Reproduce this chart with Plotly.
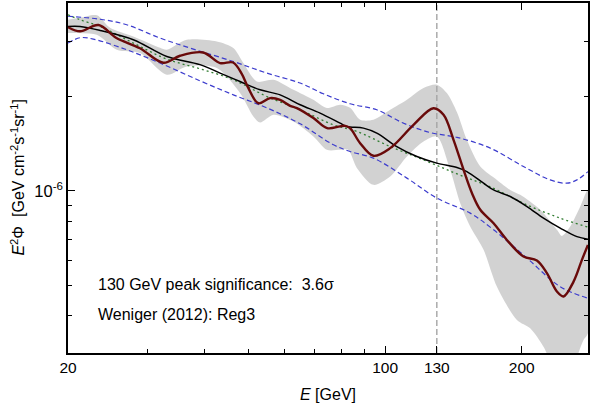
import numpy as np
import plotly.graph_objects as go

# ---------------- data (E in GeV, flux E^2*Phi in units of 1e-6 GeV cm^-2 s^-1 sr^-1)
data_E = [20.0, 21.26, 23.35, 25.52, 28.82, 32.45, 35.32, 39.70, 43.28, 46.22, 48.31, 49.96,
          52.56, 55.79, 58.70, 61.76, 63.89, 69.49, 74.50, 79.58, 81.63, 83.73, 88.09, 94.22,
          102.6, 115.5, 127.8, 134.5, 141.5, 148.9, 155.4, 162.1, 173.4, 185.5, 201.8, 216.0,
          227.3, 239.1, 247.3, 260.2, 271.5, 279.9]
data_F = [3.330, 3.233, 3.384, 3.083, 2.853, 2.565, 2.700, 2.766, 2.559, 2.570, 2.364, 2.129,
          1.904, 1.978, 1.953, 1.869, 1.838, 1.708, 1.586, 1.607, 1.613, 1.586, 1.420, 1.294,
          1.369, 1.625, 1.835, 1.749, 1.455, 1.167, 0.983, 0.870, 0.788, 0.697, 0.617, 0.599,
          0.546, 0.477, 0.460, 0.513, 0.602, 0.672]

model_E = [20.0, 21.26, 23.53, 27.86, 33.02, 39.09, 43.28, 47.89, 53.01, 58.70, 64.97, 71.89,
           79.58, 82.34, 89.58, 95.86, 106.1, 117.5, 130.0, 144.0, 151.4, 164.8, 173.4, 188.7,
           205.4, 223.4, 243.2, 264.7, 279.9]
model_F = [3.349, 3.349, 3.252, 3.037, 2.686, 2.530, 2.377, 2.235, 2.102, 2.026, 1.883, 1.771,
           1.645, 1.605, 1.586, 1.529, 1.385, 1.287, 1.226, 1.187, 1.152, 1.058, 1.007, 0.959,
           0.891, 0.818, 0.760, 0.714, 0.701]

bkg_E = [20.0, 21.26, 23.53, 27.86, 33.02, 39.09, 46.29, 54.85, 64.97, 76.92, 86.63, 102.6,
         121.5, 144.0, 170.5, 205.4, 243.2, 279.9]
bkg_F = [3.650, 3.518, 3.349, 2.964, 2.635, 2.453, 2.263, 2.001, 1.815, 1.625, 1.547, 1.385,
         1.256, 1.133, 1.030, 0.902, 0.818, 0.766]

up_E = [20.0, 23.53, 26.94, 31.91, 37.78, 46.29, 54.85, 64.97, 73.11, 83.73, 95.86, 109.7,
        125.7, 144.0, 170.5, 201.8, 231.1, 251.6, 264.7, 279.9]
up_F = [3.610, 3.532, 3.392, 3.075, 2.836, 2.589, 2.377, 2.209, 2.041, 1.897, 1.815, 1.645,
        1.535, 1.482, 1.369, 1.196, 1.084, 1.058, 1.084, 1.152]

lo_E = [20.0, 21.26, 22.74, 26.94, 31.91, 39.09, 46.29, 54.85, 64.97, 76.92, 83.73, 94.22,
        111.7, 130.0, 154.0, 173.4, 205.4, 243.2, 279.9]
lo_F = [2.964, 3.083, 3.052, 2.822, 2.559, 2.246, 2.026, 1.841, 1.637, 1.403, 1.335, 1.272,
        1.098, 0.948, 0.849, 0.751, 0.610, 0.494, 0.454]

band_hi_E = [20.0, 21.26, 23.17, 24.76, 27.86, 31.91, 33.02, 36.54, 42.56, 46.29, 48.70, 52.13,
             56.74, 62.80, 69.49, 74.39, 79.58, 83.73, 88.09, 94.22, 102.6, 111.7, 121.5, 130.0,
             136.8, 144.0, 151.4, 162.1, 176.4, 188.7, 198.5, 219.7, 239.1, 245.3, 255.8, 269.2,
             279.9]
band_hi_F = [3.518, 3.571, 3.638, 3.317, 3.112, 2.863, 2.822, 3.037, 2.999, 2.857, 2.559, 2.235,
             2.263, 2.102, 1.953, 1.838, 1.883, 1.841, 1.686, 1.686, 1.815, 1.953, 2.129, 2.182,
             2.052, 1.782, 1.455, 1.196, 1.084, 1.007, 0.971, 0.870, 0.751, 0.718, 0.769, 0.891,
             1.007]
band_lo_E = [20.0, 23.14, 25.61, 28.82, 33.02, 36.54, 42.56, 47.89, 51.24, 53.01, 56.74, 62.80,
             69.49, 74.39, 79.58, 82.88, 86.63, 94.22, 102.6, 111.7, 121.5, 130.0, 139.1, 146.4,
             154.0, 164.8, 176.4, 195.2, 208.8, 223.4, 237.1, 255.8, 273.7, 279.9]
band_lo_F = [3.190, 3.150, 2.822, 2.754, 2.348, 2.495, 2.466, 2.052, 1.727, 1.652, 1.749, 1.664,
             1.491, 1.352, 1.352, 1.352, 1.184, 1.045, 1.111, 1.287, 1.437, 1.491, 1.167, 0.913,
             0.769, 0.648, 0.494, 0.387, 0.364, 0.318, 0.27, 0.27, 0.334, 0.351]

PEAK_E = 130.0
UNIT = 1e-6
X_RANGE = [20.0, 280.0]
Y_RANGE = [3.035e-7, 3.98e-6]

x_ticks = [20, 100, 130, 200]
x_minor = [30, 40, 50, 60, 70, 80, 90]
y_ticks = [1e-6]
y_ticktext = ["10<sup>-6</sup>"]
y_minor = [3e-7, 4e-7, 5e-7, 6e-7, 7e-7, 8e-7, 9e-7, 2e-6, 3e-6]

sc = lambda arr: [v * UNIT for v in arr]

FONT = "Liberation Sans, Arial, Helvetica, sans-serif"

fig = go.Figure()

# uncertainty band (light grey with fine vertical hatching)
fig.add_trace(go.Scatter(
    x=band_hi_E + band_lo_E[::-1],
    y=sc(band_hi_F + band_lo_F[::-1]),
    fill="toself", mode="lines", line=dict(width=0, shape="spline", smoothing=0.8),
    fillcolor="rgb(210,210,210)",
    fillpattern=dict(shape="|", bgcolor="rgb(214,214,214)", fgcolor="rgb(198,198,198)",
                     size=2, solidity=0.5),
    hoverinfo="skip", showlegend=False))

# vertical marker at the line energy
fig.add_trace(go.Scatter(
    x=[PEAK_E, PEAK_E], y=Y_RANGE, mode="lines",
    line=dict(color="rgb(165,165,165)", width=1.4, dash="6px,3px"), showlegend=False))

# upper/lower dashed curves
for E, F in ((up_E, up_F), (lo_E, lo_F)):
    fig.add_trace(go.Scatter(
        x=E, y=sc(F), mode="lines",
        line=dict(color="rgb(60,60,205)", width=1.2, dash="5px,3px", shape="spline", smoothing=1.0),
        showlegend=False))

# background (green dotted)
fig.add_trace(go.Scatter(
    x=bkg_E, y=sc(bkg_F), mode="lines",
    line=dict(color="rgb(50,125,50)", width=1.3, dash="2px,3px", shape="spline", smoothing=1.0),
    showlegend=False))

# model (black)
fig.add_trace(go.Scatter(
    x=model_E, y=sc(model_F), mode="lines",
    line=dict(color="black", width=1.5, shape="spline", smoothing=1.0), showlegend=False))

# data (dark red)
fig.add_trace(go.Scatter(
    x=data_E, y=sc(data_F), mode="lines",
    line=dict(color="rgb(105,10,10)", width=2.4, shape="spline", smoothing=1.0), showlegend=False))

fig.update_layout(
    width=590, height=403,
    margin=dict(l=68, r=2, t=3, b=50, autoexpand=False),
    paper_bgcolor="white", plot_bgcolor="white",
    font=dict(family=FONT, size=16, color="black"),
    showlegend=False,
)

fig.update_xaxes(
    type="log", range=[np.log10(X_RANGE[0]), np.log10(X_RANGE[1])],
    tickvals=x_ticks, ticktext=[str(t) for t in x_ticks],
    ticks="inside", ticklen=7, tickwidth=1.2, tickcolor="black",
    minor=dict(tickvals=x_minor, ticks="inside", ticklen=4, tickwidth=1.2, tickcolor="black", showgrid=False),
    showgrid=False, zeroline=False,
    showline=True, linecolor="black", linewidth=1.5, mirror="allticks",
    tickfont=dict(size=15.5, family=FONT), automargin=False,
    title=dict(text="<i>E</i> [GeV]", font=dict(size=16, family=FONT), standoff=14),
)
fig.update_yaxes(
    type="log", range=[np.log10(Y_RANGE[0]), np.log10(Y_RANGE[1])],
    tickvals=y_ticks, ticktext=y_ticktext,
    ticks="inside", ticklen=7, tickwidth=1.2, tickcolor="black",
    minor=dict(tickvals=y_minor, ticks="inside", ticklen=4, tickwidth=1.2, tickcolor="black", showgrid=False),
    showgrid=False, zeroline=False, automargin=False,
    showline=True, linecolor="black", linewidth=1.5, mirror="allticks",
    tickfont=dict(size=16.5, family=FONT),
)

fig.add_annotation(
    text="<i>E</i><sup>2</sup>Φ\u00a0 [GeV cm<sup>-2</sup>s<sup>-1</sup>sr<sup>-1</sup>]",
    xref="paper", yref="paper", x=-0.097, y=0.5, textangle=-90,
    showarrow=False, font=dict(size=16, family=FONT), xanchor="center", yanchor="middle")

fig.add_annotation(
    text="130 GeV peak significance:\u00a0 3.6σ",
    xref="paper", yref="paper", x=0.0535, y=0.196, xanchor="left", yanchor="middle",
    showarrow=False, font=dict(size=16, family=FONT))
fig.add_annotation(
    text="Weniger (2012): Reg3",
    xref="paper", yref="paper", x=0.0535, y=0.110, xanchor="left", yanchor="middle",
    showarrow=False, font=dict(size=16, family=FONT))

fig.write_html("out.html", config={"displayModeBar": False},
               post_script="document.body.style.margin='0';document.body.style.overflow='hidden';")
